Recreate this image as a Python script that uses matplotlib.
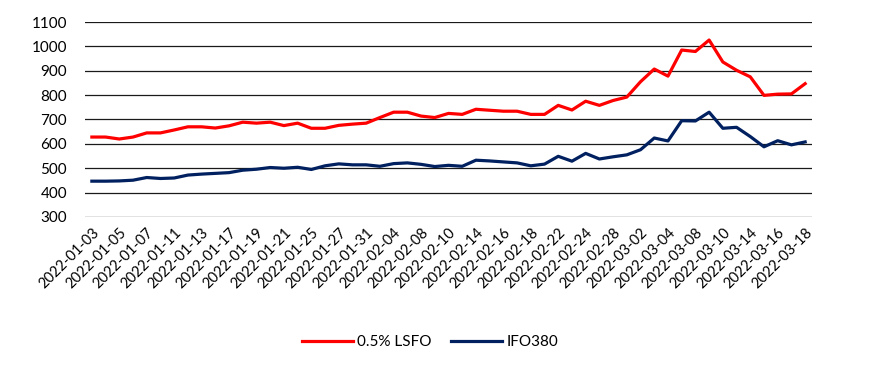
import matplotlib.pyplot as plt

plt.rcParams['font.family'] = ['Lato', 'DejaVu Sans']

dates = ['2022-01-03', '2022-01-04', '2022-01-05', '2022-01-06', '2022-01-07',
         '2022-01-10', '2022-01-11', '2022-01-12', '2022-01-13', '2022-01-14',
         '2022-01-17', '2022-01-18', '2022-01-19', '2022-01-20', '2022-01-21',
         '2022-01-24', '2022-01-25', '2022-01-26', '2022-01-27', '2022-01-28',
         '2022-01-31', '2022-02-03', '2022-02-04', '2022-02-07', '2022-02-08',
         '2022-02-09', '2022-02-10', '2022-02-11', '2022-02-14', '2022-02-15',
         '2022-02-16', '2022-02-17', '2022-02-18', '2022-02-21', '2022-02-22',
         '2022-02-23', '2022-02-24', '2022-02-25', '2022-02-28', '2022-03-01',
         '2022-03-02', '2022-03-03', '2022-03-04', '2022-03-07', '2022-03-08',
         '2022-03-09', '2022-03-10', '2022-03-11', '2022-03-14', '2022-03-15',
         '2022-03-16', '2022-03-17', '2022-03-18']

lsfo = [628, 628, 620, 628, 645, 645, 657, 670, 670, 665,
        674, 689, 685, 689, 675, 685, 664, 664, 676, 681,
        685, 708, 730, 730, 714, 708, 725, 721, 742, 738,
        734, 734, 721, 721, 758, 739, 775, 758, 778, 792,
        855, 907, 878, 985, 979, 1026, 936, 902, 875, 799,
        804, 805, 847]

ifo380 = [447, 447, 448, 451, 462, 458, 460, 472, 476, 479,
          482, 492, 496, 503, 500, 504, 495, 510, 518, 514,
          514, 508, 519, 522, 516, 507, 512, 508, 533, 530,
          526, 522, 510, 517, 549, 529, 561, 538, 547, 555,
          576, 624, 612, 695, 694, 730, 664, 668, 630, 588,
          613, 596, 608]

fig = plt.figure(figsize=(8.69, 3.67), dpi=100)
ax = fig.add_axes([85 / 869, 1 - 217 / 367, (812 - 85) / 869, 195 / 367])

x = range(len(dates))
ax.plot(x, lsfo, color='#FF0000', linewidth=2.3, label='0.5% LSFO')
ax.plot(x, ifo380, color='#002060', linewidth=2.3, label='IFO380')

ax.set_xlim(-0.5, len(dates) - 0.5)
ax.set_ylim(300, 1100)
ax.set_yticks(range(300, 1101, 100))
ax.grid(axis='y', color='#1a1a1a', linewidth=0.9)
ax.set_axisbelow(True)
for s in ax.spines.values():
    s.set_visible(False)
ax.tick_params(axis='y', length=0, pad=13, labelsize=11, labelcolor='#000000')
ax.tick_params(axis='x', length=0, pad=6, labelsize=10.5)

ticks = list(range(0, len(dates), 2))
ax.set_xticks(ticks)
ax.set_xticklabels([dates[i] for i in ticks], rotation=45, ha='right',
                   rotation_mode='anchor')

fig.legend(loc='center', bbox_to_anchor=(0.495, 1 - 342 / 367), ncol=2,
           frameon=False, fontsize=11, handlelength=3.3, handletextpad=0.3,
           columnspacing=1.3)

fig.savefig('out.png', dpi=100)
